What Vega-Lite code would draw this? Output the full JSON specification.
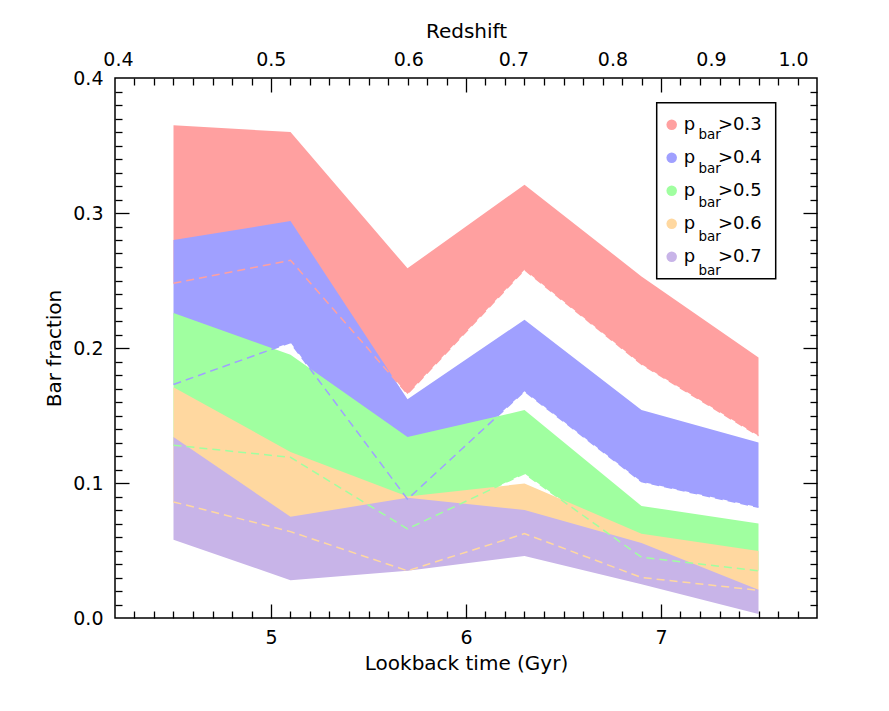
{
  "$schema": "https://vega.github.io/schema/vega-lite/v6.json",
  "width": 702,
  "height": 540,
  "autosize": {"type": "none"},
  "padding": {"left": 115, "top": 78, "right": 72, "bottom": 93},
  "background": "white",
  "datasets": {
    "bars": [
      {"series": "0.3", "time": 4.5, "lower": 0.248, "upper": 0.365},
      {"series": "0.3", "time": 5.1, "lower": 0.265, "upper": 0.360},
      {"series": "0.3", "time": 5.7, "lower": 0.166, "upper": 0.259},
      {"series": "0.3", "time": 6.3, "lower": 0.258, "upper": 0.321},
      {"series": "0.3", "time": 6.9, "lower": 0.188, "upper": 0.253},
      {"series": "0.3", "time": 7.5, "lower": 0.135, "upper": 0.193},
      {"series": "0.4", "time": 4.5, "lower": 0.173, "upper": 0.280},
      {"series": "0.4", "time": 5.1, "lower": 0.204, "upper": 0.294},
      {"series": "0.4", "time": 5.7, "lower": 0.088, "upper": 0.162},
      {"series": "0.4", "time": 6.3, "lower": 0.168, "upper": 0.221},
      {"series": "0.4", "time": 6.9, "lower": 0.101, "upper": 0.154},
      {"series": "0.4", "time": 7.5, "lower": 0.082, "upper": 0.130},
      {"series": "0.5", "time": 4.5, "lower": 0.128, "upper": 0.226},
      {"series": "0.5", "time": 5.1, "lower": 0.119, "upper": 0.195},
      {"series": "0.5", "time": 5.7, "lower": 0.066, "upper": 0.134},
      {"series": "0.5", "time": 6.3, "lower": 0.107, "upper": 0.154},
      {"series": "0.5", "time": 6.9, "lower": 0.045, "upper": 0.083},
      {"series": "0.5", "time": 7.5, "lower": 0.035, "upper": 0.070},
      {"series": "0.6", "time": 4.5, "lower": 0.086, "upper": 0.171},
      {"series": "0.6", "time": 5.1, "lower": 0.064, "upper": 0.123},
      {"series": "0.6", "time": 5.7, "lower": 0.035, "upper": 0.090},
      {"series": "0.6", "time": 6.3, "lower": 0.0625, "upper": 0.0996},
      {"series": "0.6", "time": 6.9, "lower": 0.030, "upper": 0.0625},
      {"series": "0.6", "time": 7.5, "lower": 0.0205, "upper": 0.0496},
      {"series": "0.7", "time": 4.5, "lower": 0.058, "upper": 0.134},
      {"series": "0.7", "time": 5.1, "lower": 0.028, "upper": 0.075},
      {"series": "0.7", "time": 5.7, "lower": 0.035, "upper": 0.089},
      {"series": "0.7", "time": 6.3, "lower": 0.046, "upper": 0.080},
      {"series": "0.7", "time": 6.9, "lower": 0.025, "upper": 0.0556},
      {"series": "0.7", "time": 7.5, "lower": 0.003, "upper": 0.021}
    ]
  },
  "data": {"name": "bars"},
  "resolve": {"axis": {"x": "independent", "y": "independent"}},
  "layer": [
    {
      "transform": [{"filter": "datum.series === '0.3'"}],
      "mark": {"type": "area", "opacity": 1},
      "encoding": {
        "x": {
          "field": "time", "type": "quantitative",
          "scale": {"domain": [4.2, 7.8], "nice": false, "zero": false},
          "axis": {"orient": "bottom", "values": [5, 6, 7], "format": "d", "ticks": false, "tickSize": 0,
                   "labelPadding": 10, "title": "Lookback time (Gyr)", "titlePadding": 6}
        },
        "y": {
          "field": "upper", "type": "quantitative",
          "scale": {"domain": [0, 0.4], "nice": false},
          "axis": {"orient": "left", "values": [0, 0.1, 0.2, 0.3, 0.4], "format": ".1f", "ticks": false, "tickSize": 0,
                   "labelPadding": 12, "title": "Bar fraction", "titlePadding": 8}
        },
        "y2": {"field": "lower"},
        "color": {
          "field": "series", "type": "nominal",
          "scale": {"domain": ["0.3", "0.4", "0.5", "0.6", "0.7"],
                    "range": ["#ffa0a0", "#a0a0ff", "#a0ffa0", "#ffd8a0", "#c8b4e8"]},
          "legend": {
            "orient": "none", "legendX": 541.7, "legendY": 24.7,
            "title": null,
            "labelExpr": "'p\u00a0\u00a0\u00a0\u00a0>' + datum.label + '\u00a0'",
            "labelFont": "DejaVu Sans", "labelFontSize": 18, "labelColor": "#000",
            "labelOffset": 3,
            "symbolType": "circle", "symbolSize": 110, "symbolStrokeWidth": 0, "symbolOpacity": 1,
            "symbolOffset": -7,
            "rowPadding": 15, "padding": 13,
            "strokeColor": "#000", "fillColor": "white"
          }
        }
      }
    },
    {
      "transform": [{"filter": "datum.series === '0.4'"}],
      "mark": {"type": "area", "opacity": 1},
      "encoding": {
        "x": {
          "field": "time", "type": "quantitative",
          "scale": {"domain": [4.2, 7.8], "nice": false, "zero": false},
          "axis": {"orient": "bottom", "values": [5, 6, 7], "labels": false, "tickSize": -14, "title": null, "zindex": 1}
        },
        "y": {
          "field": "upper", "type": "quantitative",
          "scale": {"domain": [0, 0.4], "nice": false},
          "axis": {"orient": "left", "values": [0.1, 0.2, 0.3], "labels": false, "tickSize": -14, "title": null, "zindex": 1}
        },
        "y2": {"field": "lower"},
        "color": {"field": "series", "type": "nominal"}
      }
    },
    {
      "transform": [{"filter": "datum.series === '0.5'"}],
      "mark": {"type": "area", "opacity": 1},
      "encoding": {
        "x": {
          "field": "time", "type": "quantitative",
          "scale": {"domain": [4.2, 7.8], "nice": false, "zero": false},
          "axis": {"orient": "bottom",
                   "values": [4.3, 4.4, 4.5, 4.6, 4.7, 4.8, 4.9, 5.1, 5.2, 5.3, 5.4, 5.5, 5.6, 5.7, 5.8, 5.9, 6.1, 6.2, 6.3, 6.4, 6.5, 6.6, 6.7, 6.8, 6.9, 7.1, 7.2, 7.3, 7.4, 7.5, 7.6, 7.7],
                   "labels": false, "tickSize": -7, "title": null, "zindex": 1}
        },
        "y": {
          "field": "upper", "type": "quantitative",
          "scale": {"domain": [0, 0.4], "nice": false},
          "axis": {"orient": "left",
                   "values": [0.01, 0.02, 0.03, 0.04, 0.05, 0.06, 0.07, 0.08, 0.09, 0.11, 0.12, 0.13, 0.14, 0.15, 0.16, 0.17, 0.18, 0.19, 0.21, 0.22, 0.23, 0.24, 0.25, 0.26, 0.27, 0.28, 0.29, 0.31, 0.32, 0.33, 0.34, 0.35, 0.36, 0.37, 0.38, 0.39],
                   "labels": false, "tickSize": -7, "title": null, "zindex": 1}
        },
        "y2": {"field": "lower"},
        "color": {"field": "series", "type": "nominal"}
      }
    },
    {
      "transform": [{"filter": "datum.series === '0.6'"}],
      "mark": {"type": "area", "opacity": 1},
      "encoding": {
        "x": {
          "field": "time", "type": "quantitative",
          "scale": {"domain": [4.2, 7.8], "nice": false, "zero": false},
          "axis": {"orient": "top", "values": [5, 6, 7], "labels": false, "tickSize": -14, "title": null, "zindex": 1}
        },
        "y": {
          "field": "upper", "type": "quantitative",
          "scale": {"domain": [0, 0.4], "nice": false},
          "axis": {"orient": "right", "values": [0.1, 0.2, 0.3], "labels": false, "tickSize": -14, "title": null, "zindex": 1}
        },
        "y2": {"field": "lower"},
        "color": {"field": "series", "type": "nominal"}
      }
    },
    {
      "transform": [{"filter": "datum.series === '0.7'"}],
      "mark": {"type": "area", "opacity": 1},
      "encoding": {
        "x": {
          "field": "time", "type": "quantitative",
          "scale": {"domain": [4.2, 7.8], "nice": false, "zero": false},
          "axis": {"orient": "top",
                   "values": [4.3, 4.4, 4.5, 4.6, 4.7, 4.8, 4.9, 5.1, 5.2, 5.3, 5.4, 5.5, 5.6, 5.7, 5.8, 5.9, 6.1, 6.2, 6.3, 6.4, 6.5, 6.6, 6.7, 6.8, 6.9, 7.1, 7.2, 7.3, 7.4, 7.5, 7.6, 7.7],
                   "labels": false, "tickSize": -7, "title": null, "zindex": 1}
        },
        "y": {
          "field": "upper", "type": "quantitative",
          "scale": {"domain": [0, 0.4], "nice": false},
          "axis": {"orient": "right",
                   "values": [0.01, 0.02, 0.03, 0.04, 0.05, 0.06, 0.07, 0.08, 0.09, 0.11, 0.12, 0.13, 0.14, 0.15, 0.16, 0.17, 0.18, 0.19, 0.21, 0.22, 0.23, 0.24, 0.25, 0.26, 0.27, 0.28, 0.29, 0.31, 0.32, 0.33, 0.34, 0.35, 0.36, 0.37, 0.38, 0.39],
                   "labels": false, "tickSize": -7, "title": null, "zindex": 1}
        },
        "y2": {"field": "lower"},
        "color": {"field": "series", "type": "nominal"}
      }
    },
    {
      "transform": [{"filter": "datum.series !== '0.7'"}],
      "mark": {"type": "line", "strokeDash": [8, 5], "strokeWidth": 1.5},
      "encoding": {
        "x": {
          "field": "time", "type": "quantitative",
          "scale": {"domain": [4.2, 7.8], "nice": false, "zero": false},
          "axis": {"orient": "top", "values": [4.215, 4.999, 5.704, 6.243, 6.751, 7.256, 7.677],
                   "labelExpr": "datum.value < 4.6 ? '0.4' : datum.value < 5.3 ? '0.5' : datum.value < 6 ? '0.6' : datum.value < 6.5 ? '0.7' : datum.value < 7 ? '0.8' : datum.value < 7.5 ? '0.9' : '1.0'",
                   "ticks": false, "tickSize": 0, "labelPadding": 9, "title": "Redshift", "titlePadding": 9}
        },
        "y": {
          "field": "lower", "type": "quantitative",
          "scale": {"domain": [0, 0.4], "nice": false},
          "axis": null
        },
        "color": {"field": "series", "type": "nominal"}
      }
    },
    {
      "mark": {"type": "point", "opacity": 0},
      "encoding": {
        "x": {"field": "time", "type": "quantitative", "scale": {"domain": [4.2, 7.8], "nice": false, "zero": false}, "axis": null},
        "y": {"field": "lower", "type": "quantitative", "scale": {"domain": [0, 0.4], "nice": false}, "axis": null},
        "shape": {
          "field": "series", "type": "nominal",
          "scale": {"domain": ["0.3", "0.4", "0.5", "0.6", "0.7", "none"],
                    "range": ["circle", "circle", "circle", "circle", "circle", "circle"]},
          "legend": {
            "orient": "none", "legendX": 570, "legendY": 50.5,
            "title": null,
            "values": ["0.3", "0.4", "0.5", "0.6", "0.7"],
            "labelExpr": "'bar'",
            "labelFont": "DejaVu Sans", "labelFontSize": 13.5, "labelColor": "#000",
            "labelOffset": 0,
            "symbolSize": 1, "symbolOpacity": 0, "symbolStrokeWidth": 0,
            "rowPadding": 19, "padding": 0
          }
        }
      }
    }
  ],
  "config": {
    "font": "DejaVu Sans",
    "view": {"stroke": "#000", "strokeWidth": 1.5},
    "legend": {"strokeWidth": 1.5},
    "axis": {
      "grid": false, "domain": false,
      "labelFont": "DejaVu Sans", "titleFont": "DejaVu Sans",
      "labelFontSize": 19, "titleFontSize": 20, "titleFontWeight": "normal",
      "labelColor": "#000", "titleColor": "#000",
      "tickColor": "#000", "tickWidth": 1.3,
      "labelFlush": false, "labelOverlap": false
    }
  }
}
